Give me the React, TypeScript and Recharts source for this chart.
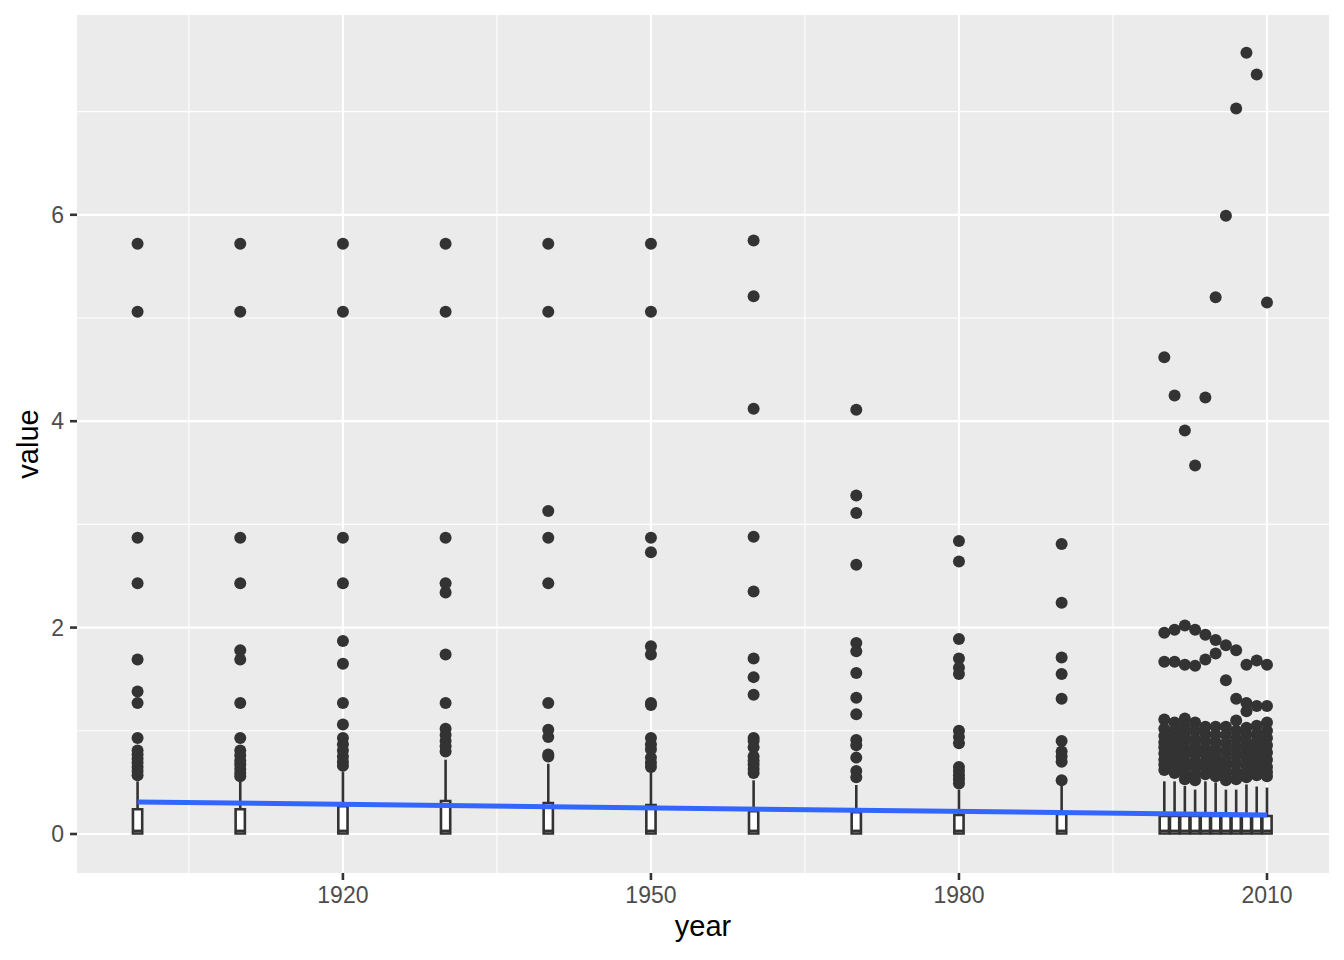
import React from "react";
import {
  ComposedChart,
  XAxis,
  YAxis,
  CartesianGrid,
  Scatter,
  Line,
  ReferenceArea,
  ReferenceLine,
  Label,
} from "recharts";

const FONT = "'Liberation Sans', Arial, Helvetica, sans-serif";
const INK = "#333333";

// boxplot summaries, one per year
const years = [1900, 1910, 1920, 1930, 1940, 1950, 1960, 1970, 1980, 1990, 2000, 2001, 2002, 2003, 2004, 2005, 2006, 2007, 2008, 2009, 2010];
const lowerWhisker = [0, 0, 0, 0, 0, 0, 0, 0, 0, 0, 0, 0, 0, 0, 0, 0, 0, 0, 0, 0, 0];
const q1 = [0.005, 0.005, 0.005, 0.005, 0.005, 0.005, 0.005, 0.005, 0.005, 0.005, 0.005, 0.005, 0.005, 0.005, 0.005, 0.005, 0.005, 0.005, 0.005, 0.005, 0.005];
const medians = [0.03, 0.03, 0.03, 0.03, 0.03, 0.03, 0.03, 0.03, 0.03, 0.03, 0.03, 0.03, 0.03, 0.03, 0.03, 0.03, 0.03, 0.03, 0.03, 0.03, 0.03];
const q3 = [0.24, 0.24, 0.27, 0.32, 0.3, 0.28, 0.22, 0.21, 0.185, 0.195, 0.175, 0.175, 0.175, 0.175, 0.175, 0.175, 0.175, 0.175, 0.175, 0.175, 0.175];
const upperWhisker = [0.51, 0.51, 0.6, 0.72, 0.68, 0.6, 0.52, 0.475, 0.43, 0.475, 0.51, 0.51, 0.465, 0.43, 0.51, 0.5, 0.43, 0.43, 0.48, 0.46, 0.45];

const outliers = [
  [5.72, 5.06, 2.87, 2.43, 1.69, 1.38, 1.27, 0.93, 0.81, 0.77, 0.73, 0.69, 0.65, 0.61, 0.57],
  [5.72, 5.06, 2.87, 2.43, 1.78, 1.69, 1.27, 0.93, 0.81, 0.76, 0.71, 0.67, 0.63, 0.59, 0.56],
  [5.72, 5.06, 2.87, 2.43, 1.87, 1.65, 1.27, 1.06, 0.93, 0.87, 0.81, 0.75, 0.7, 0.66],
  [5.72, 5.06, 2.87, 2.43, 2.34, 1.74, 1.27, 1.02, 0.96, 0.9, 0.85, 0.8],
  [5.72, 5.06, 3.13, 2.87, 2.43, 1.27, 1.01, 0.94, 0.77, 0.75],
  [5.72, 5.06, 2.87, 2.73, 1.82, 1.74, 1.27, 1.25, 0.93, 0.87, 0.82, 0.74, 0.69, 0.65],
  [5.75, 5.21, 4.12, 2.88, 2.35, 1.7, 1.52, 1.35, 0.93, 0.9, 0.84, 0.75, 0.71, 0.67, 0.63, 0.59],
  [4.11, 3.28, 3.11, 2.61, 1.85, 1.77, 1.56, 1.32, 1.16, 0.91, 0.86, 0.74, 0.61, 0.55],
  [2.84, 2.64, 1.89, 1.7, 1.61, 1.55, 1.0, 0.94, 0.88, 0.65, 0.61, 0.57, 0.53, 0.49],
  [2.81, 2.24, 1.71, 1.55, 1.31, 0.9, 0.8, 0.75, 0.7, 0.52],
  [4.62, 1.95, 1.67, 1.11, 1.02, 0.95, 0.89, 0.84, 0.78, 0.72, 0.67, 0.62],
  [4.25, 1.98, 1.67, 1.08, 1.0, 0.93, 0.87, 0.81, 0.75, 0.69, 0.64, 0.59],
  [3.91, 2.02, 1.64, 1.12, 1.04, 0.97, 0.9, 0.83, 0.77, 0.7, 0.64, 0.58, 0.53],
  [3.57, 1.98, 1.63, 1.08, 1.0, 0.92, 0.85, 0.78, 0.71, 0.65, 0.58, 0.52],
  [4.23, 1.93, 1.69, 1.04, 0.97, 0.9, 0.83, 0.77, 0.7, 0.64, 0.58],
  [5.2, 1.88, 1.75, 1.04, 0.96, 0.89, 0.82, 0.75, 0.68, 0.62, 0.56],
  [5.99, 1.83, 1.49, 1.04, 0.96, 0.88, 0.8, 0.72, 0.65, 0.58, 0.52],
  [7.03, 1.78, 1.31, 1.1, 1.0, 0.92, 0.84, 0.76, 0.68, 0.6, 0.53],
  [7.57, 1.64, 1.27, 1.19, 1.03, 0.96, 0.88, 0.8, 0.73, 0.66, 0.6, 0.55],
  [7.36, 1.68, 1.24, 1.05, 0.97, 0.9, 0.83, 0.76, 0.69, 0.62, 0.57],
  [5.15, 1.64, 1.24, 1.08, 1.0, 0.93, 0.86, 0.79, 0.72, 0.65, 0.6, 0.56],
];

// linear smooth (geom_smooth method = "lm") end points
const smoothYears = [1900, 2010];
const smoothValues = [0.31, 0.185];

const xTicks = [1920, 1950, 1980, 2010];
const xMinor = [1905, 1935, 1965, 1995];
const yTicks = [0, 2, 4, 6];
const yMinor = [1, 3, 5, 7];

const boxHalf = 0.45;

const outlierPoints = years.flatMap((yr, i) => outliers[i].map((v) => ({ year: yr, value: v })));
const smoothData = smoothYears.map((yr, i) => ({ year: yr, value: smoothValues[i] }));

const Dot = (props: any) => <circle cx={props.cx} cy={props.cy} r={6} fill={INK} />;

export default function App() {
  return (
    <div style={{ width: 1344, height: 960 }}>
      <style>{`body{margin:0}`}</style>
      <ComposedChart width={1344} height={960} margin={{ top: 15, right: 15, bottom: 0, left: 0 }}>
        <CartesianGrid
          fill="#EBEBEB"
          stroke="#FFFFFF"
          strokeWidth={1.1}
          horizontalValues={yMinor}
          verticalValues={xMinor}
        />
        <CartesianGrid
          stroke="#FFFFFF"
          strokeWidth={2.2}
          horizontalValues={yTicks}
          verticalValues={xTicks}
        />
        <XAxis
          dataKey="year"
          type="number"
          domain={[1894.1, 2016.04]}
          allowDataOverflow
          ticks={xTicks}
          height={87}
          axisLine={false}
          tickSize={7}
          tickMargin={7}
          tickLine={{ stroke: INK, strokeWidth: 2.6 }}
          tick={{ fill: "#4D4D4D", fontSize: 23, fontFamily: FONT }}
        >
          <Label
            content={(p: any) => {
              const vb = p.viewBox ?? { x: 77, y: 873, width: 1252, height: 87 };
              return (
                <text x={vb.x + vb.width / 2} y={vb.y + 63} textAnchor="middle" fontSize={29} fontFamily={FONT} fill="#000">
                  year
                </text>
              );
            }}
          />
        </XAxis>
        <YAxis
          dataKey="value"
          type="number"
          domain={[-0.378, 7.936]}
          allowDataOverflow
          ticks={yTicks}
          width={77}
          axisLine={false}
          tickSize={7}
          tickMargin={6}
          tickLine={{ stroke: INK, strokeWidth: 2.6 }}
          tick={{ fill: "#4D4D4D", fontSize: 23, fontFamily: FONT }}
        >
          <Label
            content={(p: any) => {
              const vb = p.viewBox ?? { x: 0, y: 15, width: 77, height: 858 };
              const cx = vb.x + 38;
              const cy = vb.y + vb.height / 2;
              return (
                <text x={cx} y={cy} transform={`rotate(-90 ${cx} ${cy})`} textAnchor="middle" fontSize={29} fontFamily={FONT} fill="#000">
                  value
                </text>
              );
            }}
          />
        </YAxis>

        {years.map((yr, i) => (
          <ReferenceLine
            key={`wu${yr}`}
            segment={[{ x: yr, y: q3[i] }, { x: yr, y: upperWhisker[i] }]}
            stroke={INK}
            strokeWidth={2.6}
          />
        ))}
        {years.map((yr, i) => (
          <ReferenceLine
            key={`wl${yr}`}
            segment={[{ x: yr, y: lowerWhisker[i] }, { x: yr, y: q1[i] }]}
            stroke={INK}
            strokeWidth={2.6}
          />
        ))}
        {years.map((yr, i) => (
          <ReferenceArea
            key={`b${yr}`}
            x1={yr - boxHalf}
            x2={yr + boxHalf}
            y1={q1[i]}
            y2={q3[i]}
            fill="#FFFFFF"
            fillOpacity={1}
            stroke={INK}
            strokeWidth={2.6}
          />
        ))}
        {years.map((yr, i) => (
          <ReferenceLine
            key={`m${yr}`}
            segment={[{ x: yr - boxHalf, y: medians[i] }, { x: yr + boxHalf, y: medians[i] }]}
            stroke={INK}
            strokeWidth={2.6}
          />
        ))}

        <Scatter data={outlierPoints} dataKey="value" shape={Dot} isAnimationActive={false} />
        <Line
          data={smoothData}
          dataKey="value"
          stroke="#3366FF"
          strokeWidth={5}
          dot={false}
          activeDot={false}
          isAnimationActive={false}
        />
      </ComposedChart>
    </div>
  );
}
